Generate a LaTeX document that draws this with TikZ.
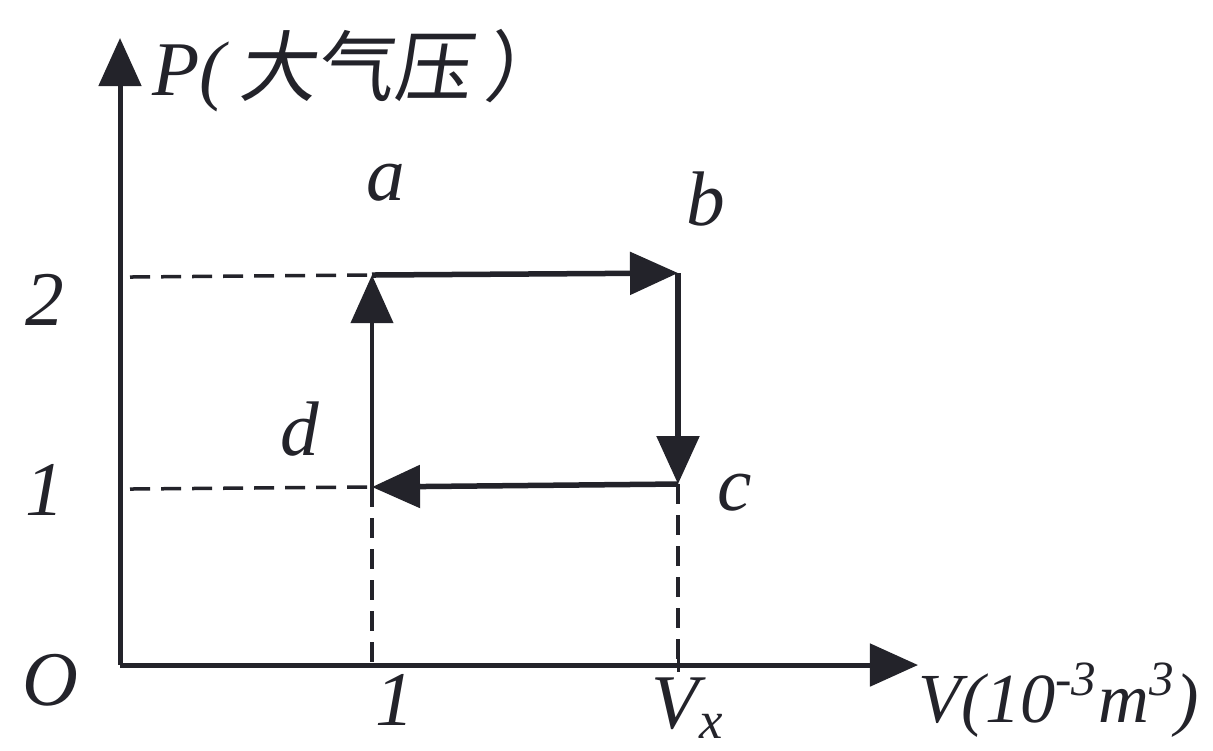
\documentclass[tikz,border=0pt]{standalone}
\usepackage{fontspec}
\setmainfont{Liberation Serif}
\newfontfamily\cjk[FakeSlant=0.15]{Noto Sans CJK SC}
\usetikzlibrary{arrows.meta}
\definecolor{ink}{RGB}{35,35,42}
\begin{document}
\begin{tikzpicture}[x=0.01cm,y=-0.01cm,
  axis/.style={ink,line width=0.05cm,-{Triangle[length=0.48cm,width=0.42cm]}},
  proc/.style={ink,line width=0.055cm,-{Triangle[length=0.48cm,width=0.42cm]}},
  guide/.style={ink,line width=0.035cm,dash pattern=on 0.2cm off 0.11cm},
  lab/.style={ink,font=\fontsize{22}{26}\selectfont\itshape,inner sep=0pt,anchor=base}]
\useasboundingbox (0,0) rectangle (1213,750);
\fill[white] (0,0) rectangle (1213,750);
% coordinates
\coordinate (O) at (120,665);
\coordinate (ytip) at (120,38);
\coordinate (xtip) at (918,665);
\coordinate (a) at (372,275);
\coordinate (b) at (678,273);
\coordinate (c) at (678,484);
\coordinate (d) at (372,487);
\coordinate (p2) at (130,277);
\coordinate (p1) at (130,489);
\coordinate (v1) at (372,665);
\coordinate (vx) at (678,665);
% guides
\draw[guide] (p2) -- (a);
\draw[guide] (p1) -- (d);
\draw[guide] (d) -- (v1);
\draw[guide] (c) -- (vx);
% axes
\draw[axis] (O) -- (ytip);
\draw[axis] (O) -- (xtip);
\draw[ink,line width=0.03cm] (678,658) -- (678,672);
% cycle
\draw[proc] (a) -- (b);
\draw[proc] (b) -- (c);
\draw[proc] (c) -- (d);
\draw[proc,line width=0.04cm] (d) -- (a);
% labels
\node[lab,anchor=base west] (Plab) at (152,95) {P(\,{\cjk 大气压}\,{\cjk ）}};
\node[lab,anchor=base west,font=\fontsize{20}{24}\selectfont\itshape] (Vlab) at (918,722) {V(10\textsuperscript{-3}m\textsuperscript{3})};
\node[lab] (la) at (386,200) {a};
\node[lab] (lb) at (706,225) {b};
\node[lab] (lc) at (735,510) {c};
\node[lab] (ld) at (300,455) {d};
\node[lab] (l2) at (45,325) {2};
\node[lab] (l1) at (45,515) {1};
\node[lab] (lO) at (50,705) {O};
\node[lab] (lv1) at (395,725) {1};
\node[lab] (lvx) at (688,728) {V\textsubscript{\fontsize{15}{17}\selectfont x}};
\end{tikzpicture}
\end{document}
